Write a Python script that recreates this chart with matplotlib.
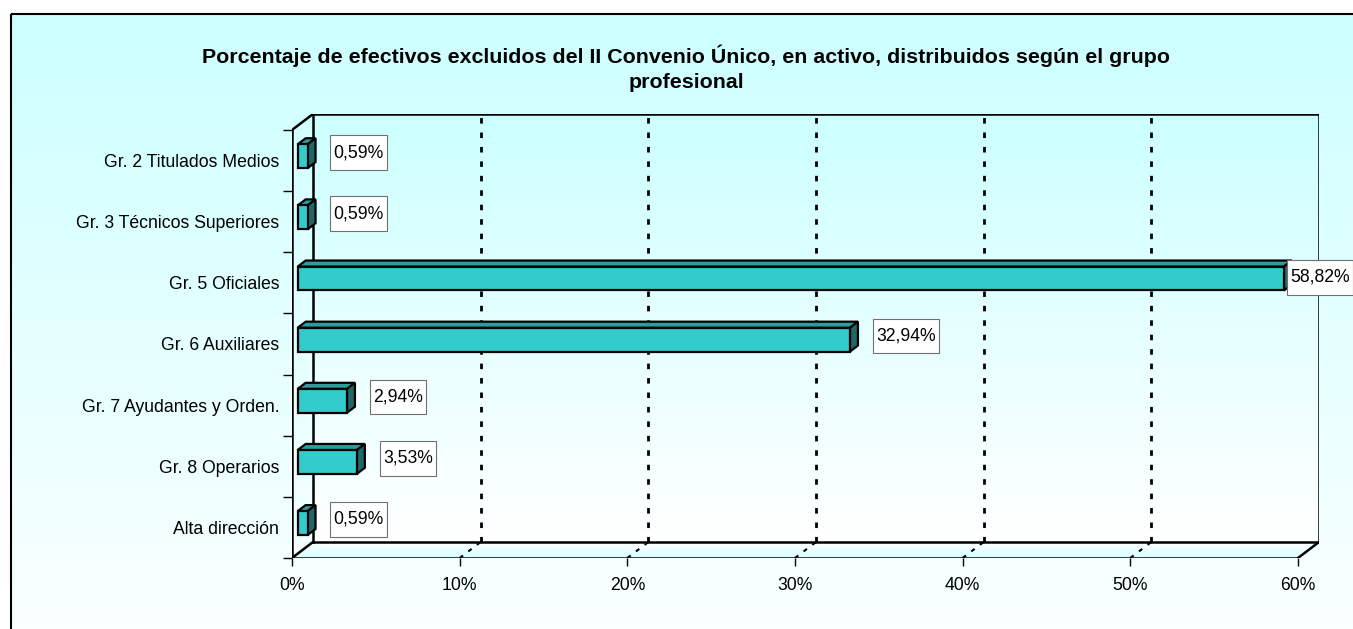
import numpy as np
import matplotlib.pyplot as plt
from matplotlib.patches import Polygon, Rectangle
from matplotlib.path import Path
from matplotlib.colors import LinearSegmentedColormap

plt.rcParams['font.family'] = ['Liberation Sans', 'DejaVu Sans']

title = ("Porcentaje de efectivos excluidos del II Convenio Único, en activo, distribuidos según el grupo\n"
         "profesional")
categories = ['Gr. 2 Titulados Medios', 'Gr. 3 Técnicos Superiores', 'Gr. 5 Oficiales',
              'Gr. 6 Auxiliares', 'Gr. 7 Ayudantes y Orden.', 'Gr. 8 Operarios', 'Alta dirección']
values = [0.59, 0.59, 58.82, 32.94, 2.94, 3.53, 0.59]
x_ticks = [0, 10, 20, 30, 40, 50, 60]
x_labels = ['0%', '10%', '20%', '30%', '40%', '50%', '60%']

W, H = 1353, 629
fig = plt.figure(figsize=(W / 100, H / 100), dpi=100)

# chart area: gradient fill + border
bg = fig.add_axes([0, 0, 1, 1], zorder=-2)
grad = np.linspace(0, 1, 256).reshape(-1, 1)
bg.imshow(grad, extent=[10, W + 10, H + 10, 13], aspect='auto',
          cmap=LinearSegmentedColormap.from_list('bg', ['#ccffff', '#fbffff']))
bg.add_patch(Rectangle((10.5, 13.5), W, H, fill=False, lw=1.5, ec='black'))
bg.set_xlim(0, W)
bg.set_ylim(H, 0)
bg.axis('off')

fig.text(686 / W, 1 - 68.5 / H, title, ha='center', va='center',
         fontsize=15.4, fontweight='bold', linespacing=1.38)

# plot area with a fake 3d depth
n = len(categories)
xmax = x_ticks[-1]
DX = 21 / (1006 / xmax)      # depth offset in data units
DY = 16 / (428 / n)
ax = fig.add_axes([292 / W, 1 - 558 / H, 1027 / W, 444 / H])
ax.set_facecolor('none')
for s in ax.spines.values():
    s.set_visible(False)


def P(x, y, d):
    return (x + d * DX, y - d * DY)


def label_box(x0, y0, width, height, mutation_size):
    # wider vertical padding than horizontal, like the excel data labels
    px, py = 0.18 * mutation_size, 0.5 * mutation_size
    x1, y1 = x0 + width + px, y0 + height + py
    x0, y0 = x0 - px, y0 - py
    return Path([(x0, y0), (x1, y0), (x1, y1), (x0, y1), (x0, y0)], closed=True)


# back wall
ax.imshow(grad, extent=[DX, xmax + DX, n - DY, -DY], aspect='auto', zorder=0,
          cmap=LinearSegmentedColormap.from_list('wall', ['#ccffff', '#ffffff']))
# floor
floor = Polygon([P(0, n, 0), P(xmax, n, 0), P(xmax, n, 1), P(0, n, 1)], closed=True,
                fc='none', ec='none')
ax.add_patch(floor)
fim = ax.imshow(grad, extent=[0, xmax + DX, n, n - DY], aspect='auto', zorder=0.5,
                cmap=LinearSegmentedColormap.from_list('floor', ['#ffffff', '#d6ffff']))
fim.set_clip_path(floor)

# gridlines on wall and floor
for t in x_ticks[1:-1]:
    ax.plot([t + DX, t + DX], [n - DY, -DY], color='black', lw=2, ls=(0, (2, 3.2)), zorder=1)
    ax.plot([t, t + DX], [n, n - DY], color='black', lw=1.5, ls=(0, (2, 3.2)), zorder=1)

# box edges
edges = [
    (P(0, 0, 1), P(xmax, 0, 1)),
    (P(xmax, 0, 1), P(xmax, n, 1)),
    (P(0, 0, 1), P(0, n, 1)),
    (P(0, 0, 0), P(0, n, 0)),
    (P(0, 0, 0), P(0, 0, 1)),
    (P(0, n, 0), P(xmax, n, 0)),
    (P(0, n, 1), P(xmax, n, 1)),
    (P(xmax, n, 0), P(xmax, n, 1)),
    (P(0, n, 0), P(0, n, 1)),
]
for a, b in edges:
    ax.plot([a[0], b[0]], [a[1], b[1]], color='black', lw=1.8, zorder=2,
            solid_capstyle='projecting')

# bars
f0, f1 = 0.27, 0.65
bh = 0.39
centers = np.arange(n) + 0.5
ax.barh(centers - f0 * DY, values, left=f0 * DX, height=bh, color='#33cccc',
        edgecolor='black', lw=1.6, zorder=5)
for c, v in zip(centers, values):
    top, bot = c - bh / 2, c + bh / 2
    ax.add_patch(Polygon([P(0, top, f0), P(v, top, f0), P(v, top, f1), P(0, top, f1)],
                         closed=True, fc='#2f9c9c', ec='black', lw=1.6, zorder=4))
    ax.add_patch(Polygon([P(v, top, f0), P(v, top, f1), P(v, bot, f1), P(v, bot, f0)],
                         closed=True, fc='#206868', ec='black', lw=1.6, zorder=4))
    label = f'{v:.2f}%'.replace('.', ',')
    if v > 0.9 * xmax:
        xy, off = (P(v, c, f0)[0], c), (6.5, 5.5)
    else:
        xy, off = (P(v, c, f1)[0], c), (18, 8)
    ax.annotate(label, xy=xy, xytext=off, textcoords='offset pixels',
                ha='left', va='center', fontsize=12.7, zorder=10, annotation_clip=False,
                bbox=dict(boxstyle=label_box, fc='white', ec='#707070', lw=0.8))

ax.set_xlim(0, xmax + DX)
ax.set_ylim(n, -DY)
ax.set_xticks(x_ticks, x_labels)
ax.tick_params(axis='x', length=5.8, width=1, pad=7.6, labelsize=12.7, colors='black')
ax.set_yticks(np.arange(n + 1))
ax.set_yticks(centers, categories, minor=True)
ax.tick_params(axis='y', which='major', length=6.5, width=1, labelleft=False)
ax.tick_params(axis='y', which='minor', length=0, pad=9.1, labelsize=12.7)

fig.savefig('out.png', dpi=100)
